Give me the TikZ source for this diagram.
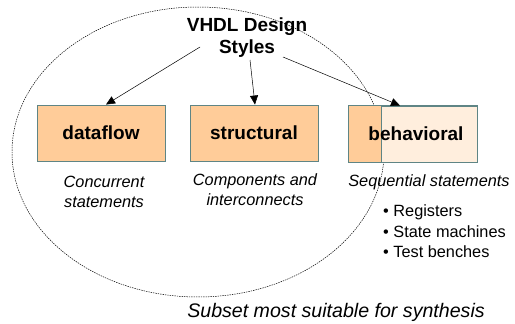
\documentclass[tikz,border=0pt]{standalone}
\usepackage{fontspec}
\setmainfont{Liberation Sans}
\usetikzlibrary{arrows.meta,calc}
\definecolor{boxfill}{HTML}{FFCC99}
\definecolor{boxlight}{HTML}{FFEEDD}
\definecolor{boxline}{HTML}{5F8585}
\tikzset{
  stylebox/.style={draw=boxline, line width=0.9pt, fill=boxfill,
    minimum width=128pt, minimum height=56pt, inner sep=0pt,
    font=\fontsize{19}{22}\selectfont\bfseries},
  note/.style={font=\fontsize{16.3}{20}\selectfont\itshape, align=center, inner sep=0pt},
  bullet/.style={font=\fontsize{16.3}{20}\selectfont, anchor=west, inner sep=0pt},
  link/.style={-{Triangle[length=9pt,width=8pt]}, line width=0.5pt},
}
\begin{document}
\begin{tikzpicture}[x=1pt,y=-1pt]
\useasboundingbox (0,0) rectangle (515,324);
% synthesis subset boundary
\draw[line width=0.5pt, dash pattern=on 1.4pt off 1pt] (198,152) ellipse [x radius=186, y radius=145];
% title
\node[font=\fontsize{19}{22}\selectfont\bfseries, align=center, inner sep=0pt] (title) at (247,38) {VHDL Design\\Styles};
% design style boxes
\node[stylebox] (df) at (101,133) {dataflow};
\node[stylebox] (st) at (254,133) {structural};
\node[stylebox, fill=boxlight] (bh) at (413,134) {};
\filldraw[draw=boxline, line width=0.9pt, fill=boxfill] (bh.north west) rectangle ($(bh.south west)+(33,0)$);
\draw[boxline, line width=0.9pt] (bh.north west) rectangle (bh.south east);
\node[font=\fontsize{19}{22}\selectfont\bfseries, inner sep=0pt] (bhlabel) at (416,134) {behavioral};
% arrows from the title
\coordinate (t1) at (200,47);
\coordinate (t2) at (250,60);
\coordinate (t3) at (283,57);
\draw[link] (t1) -- (df.north -| 106,0);
\draw[link] (t2) -- (st.north -| 255,0);
\draw[link] (t3) -- (bh.north -| 400,0);
% descriptions
\node[note] (dfnote) at (104,192) {Concurrent\\statements};
\node[note] (stnote) at (255,190) {Components and\\interconnects};
\node[note] (bhnote) at (429,182) {Sequential statements};
\node[bullet] (b1) at (383,212) {• Registers};
\node[bullet] (b2) at (383,232) {• State machines};
\node[bullet] (b3) at (383,252) {• Test benches};
\node[font=\fontsize{19.6}{22}\selectfont\itshape, inner sep=0pt] (subset) at (336,312) {Subset most suitable for synthesis};
\end{tikzpicture}
\end{document}
